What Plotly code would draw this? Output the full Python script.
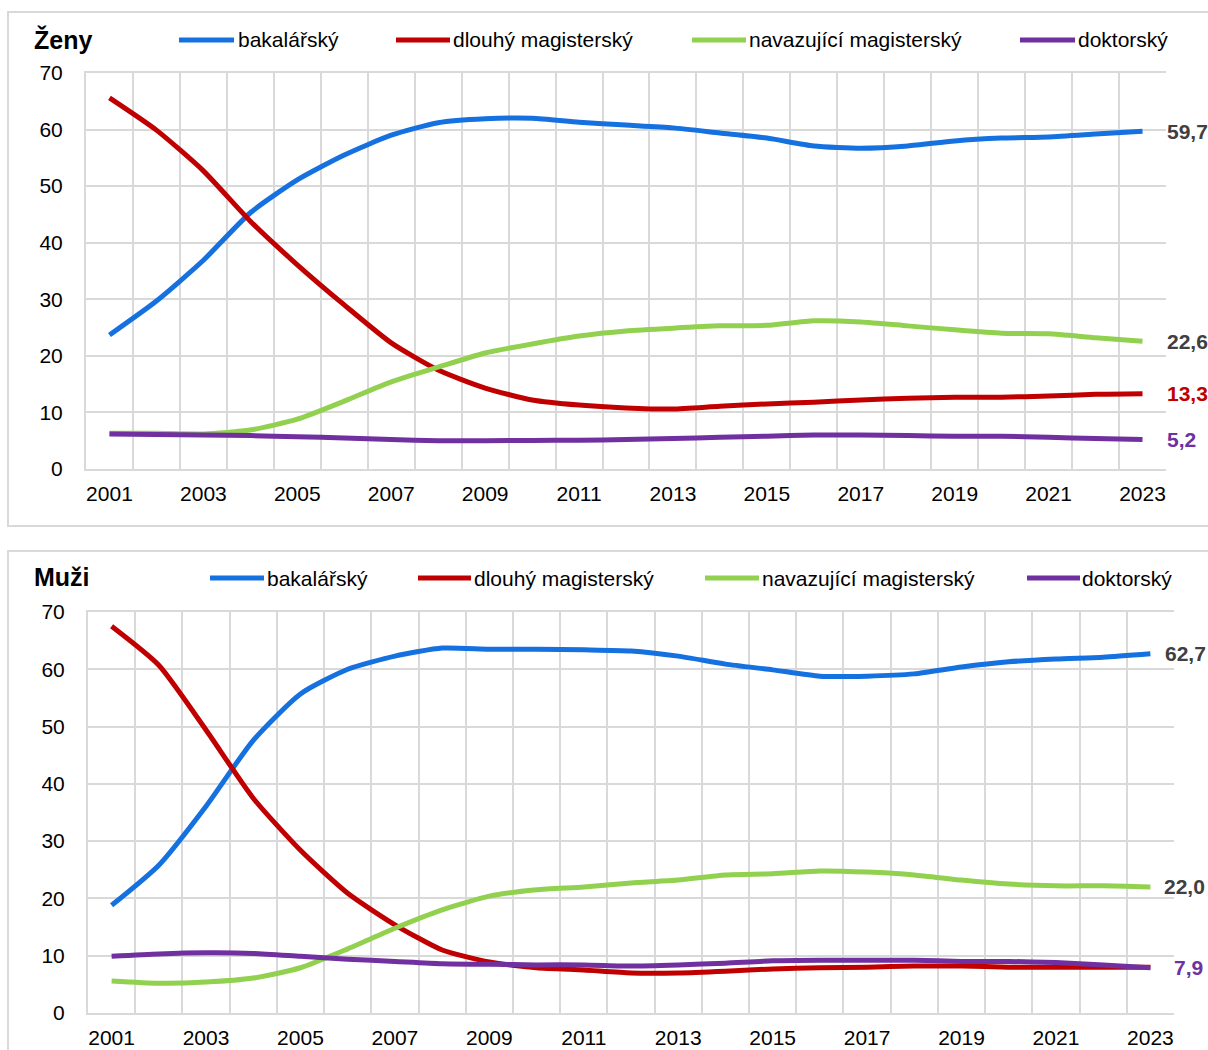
import plotly.graph_objects as go
from plotly.subplots import make_subplots

years = list(range(2001, 2024))
series_names = ["bakalářský", "dlouhý magisterský", "navazující magisterský", "doktorský"]
colors = ["#1570E0", "#C00000", "#92D050", "#7030A0"]

zeny_bak = [23.7, 29.7, 36.9, 45.3, 51.1, 55.5, 59.0, 61.2, 61.9, 62.0, 61.3, 60.8, 60.3, 59.4, 58.5, 57.1, 56.7, 57.1, 58.0, 58.5, 58.7, 59.2, 59.7]
zeny_dlouhy = [65.6, 59.9, 52.7, 43.8, 36.1, 29.0, 22.3, 17.5, 14.3, 12.2, 11.3, 10.8, 10.6, 11.1, 11.5, 11.8, 12.2, 12.5, 12.7, 12.7, 12.9, 13.2, 13.3]
zeny_nav = [6.3, 6.3, 6.2, 6.9, 8.8, 12.0, 15.4, 18.0, 20.5, 22.1, 23.5, 24.4, 24.9, 25.3, 25.4, 26.2, 26.0, 25.3, 24.6, 24.0, 23.9, 23.2, 22.6]
zeny_dok = [6.2, 6.1, 6.0, 5.9, 5.7, 5.5, 5.2, 5.0, 5.0, 5.05, 5.1, 5.2, 5.4, 5.6, 5.8, 6.0, 6.0, 5.9, 5.8, 5.8, 5.6, 5.4, 5.2]

muzi_bak = [18.8, 25.8, 36.1, 47.6, 55.7, 60.0, 62.3, 63.7, 63.5, 63.5, 63.4, 63.2, 62.3, 60.9, 59.9, 58.8, 58.8, 59.2, 60.4, 61.3, 61.8, 62.1, 62.7]
muzi_dlouhy = [67.5, 60.7, 49.4, 37.5, 28.4, 20.9, 15.4, 11.0, 8.9, 7.9, 7.5, 7.0, 7.0, 7.3, 7.7, 7.9, 8.0, 8.2, 8.2, 8.0, 8.0, 8.0, 8.0]
muzi_nav = [5.6, 5.2, 5.4, 6.1, 7.9, 11.2, 14.8, 18.0, 20.4, 21.5, 22.0, 22.7, 23.2, 24.1, 24.3, 24.8, 24.6, 24.1, 23.2, 22.5, 22.2, 22.2, 22.0]
muzi_dok = [9.9, 10.3, 10.5, 10.4, 9.9, 9.4, 9.0, 8.6, 8.5, 8.4, 8.4, 8.2, 8.4, 8.7, 9.1, 9.2, 9.2, 9.2, 9.0, 9.0, 8.8, 8.4, 7.9]

panel_titles = ["Ženy", "Muži"]
x_tick_labels = [str(y) for y in range(2001, 2024, 2)]
y_ticks = list(range(0, 71, 10))

# end labels: (series index, text, color, xshift)
zeny_end = [(0, "59,7", "#404040", 22), (2, "22,6", "#404040", 22), (1, "13,3", "#C00000", 22), (3, "5,2", "#7030A0", 22)]
muzi_end = [(0, "62,7", "#404040", 13), (2, "22,0", "#404040", 12), (3, "7,9", "#7030A0", 22)]

W, H = 1208, 1050
FONT = "Arial, Liberation Sans, sans-serif"
GRID = "#D9D9D9"
FS = 21

def px(x):
    return x / W

def py(y):
    return 1 - y / H

fig = make_subplots(rows=2, cols=1)

panels = [
    (1, [zeny_bak, zeny_dlouhy, zeny_nav, zeny_dok], zeny_end),
    (2, [muzi_bak, muzi_dlouhy, muzi_nav, muzi_dok], muzi_end),
]

for row, data, ends in panels:
    for i, vals in enumerate(data):
        fig.add_trace(go.Scatter(x=years, y=vals, mode="lines", name=series_names[i],
                                 line=dict(color=colors[i], width=5, shape="spline", smoothing=0.6),
                                 showlegend=False, hoverinfo="x+y+name"), row=row, col=1)
    xr = "x" if row == 1 else "x2"
    yr = "y" if row == 1 else "y2"
    for idx, txt, col, xs in ends:
        fig.add_annotation(x=years[-1], y=data[idx][-1], xref=xr, yref=yr, text="<b>%s</b>" % txt,
                           showarrow=False, xanchor="left", yanchor="middle", xshift=xs,
                           font=dict(family=FONT, size=FS, color=col))

axis_common = dict(showgrid=False, tickmode="array", tickvals=list(range(2001, 2024, 2)),
                   ticktext=x_tick_labels, range=[2000.5, 2023.5], ticks="",
                   showline=True, linecolor=GRID, linewidth=2, zeroline=False, automargin=False,
                   tickfont=dict(family=FONT, size=FS, color="#000000"),
                   minor=dict(showgrid=True, gridcolor=GRID, gridwidth=2, tick0=2000.5, dtick=1, ticks=""),
                   ticklabelstandoff=5, mirror=True)
yaxis_common = dict(range=[0, 70], tickvals=y_ticks, showgrid=True, gridcolor=GRID, gridwidth=2,
                    zeroline=False, showline=True, linecolor=GRID, linewidth=2, ticks="", automargin=False,
                    tickfont=dict(family=FONT, size=FS, color="#000000"), ticklabelstandoff=17)

fig.update_layout(
    template="none",
    width=W, height=H, margin=dict(l=0, r=0, t=0, b=0, pad=0), autosize=False,
    paper_bgcolor="white", plot_bgcolor="white", showlegend=False,
    font=dict(family=FONT, color="#000000"),
    xaxis=dict(domain=[px(86), px(1166)], anchor="y", **axis_common),
    yaxis=dict(domain=[py(469), py(73)], anchor="x", **yaxis_common),
    xaxis2=dict(domain=[px(88), px(1174)], anchor="y2", **axis_common),
    yaxis2=dict(domain=[py(1013), py(612)], anchor="x2", **yaxis_common),
)

# panel boxes
fig.add_shape(type="rect", xref="paper", yref="paper", x0=px(8), x1=1.02, y0=py(526), y1=py(12),
              line=dict(color=GRID, width=2), fillcolor="rgba(0,0,0,0)", layer="below")
fig.add_shape(type="rect", xref="paper", yref="paper", x0=px(8), x1=1.02, y0=py(1080), y1=py(551),
              line=dict(color=GRID, width=2), fillcolor="rgba(0,0,0,0)", layer="below")

# titles
fig.add_annotation(x=px(32), y=py(39), xref="paper", yref="paper", text="<b>%s</b>" % panel_titles[0],
                   showarrow=False, xanchor="left", yanchor="middle",
                   font=dict(family=FONT, size=25, color="#000000"))
fig.add_annotation(x=px(32), y=py(577), xref="paper", yref="paper", text="<b>%s</b>" % panel_titles[1],
                   showarrow=False, xanchor="left", yanchor="middle",
                   font=dict(family=FONT, size=25, color="#000000"))

# legends drawn manually
legend_layouts = [
    (40, [(179, 234, 236), (396, 450, 451), (692, 746, 747), (1020, 1075, 1076)]),
    (578, [(210, 264, 265), (418, 471, 472), (705, 759, 760), (1027, 1080, 1080)]),
]
for ly, items in legend_layouts:
    for i, (x0, x1, xt) in enumerate(items):
        fig.add_shape(type="line", xref="paper", yref="paper", x0=px(x0), x1=px(x1), y0=py(ly), y1=py(ly),
                      line=dict(color=colors[i], width=5))
        fig.add_annotation(x=px(xt), y=py(ly), xref="paper", yref="paper", text=series_names[i],
                           showarrow=False, xanchor="left", yanchor="middle",
                           font=dict(family=FONT, size=FS, color="#000000"))

fig.write_html("out.html", config={"displayModeBar": False},
               post_script="document.body.style.margin='0';")
